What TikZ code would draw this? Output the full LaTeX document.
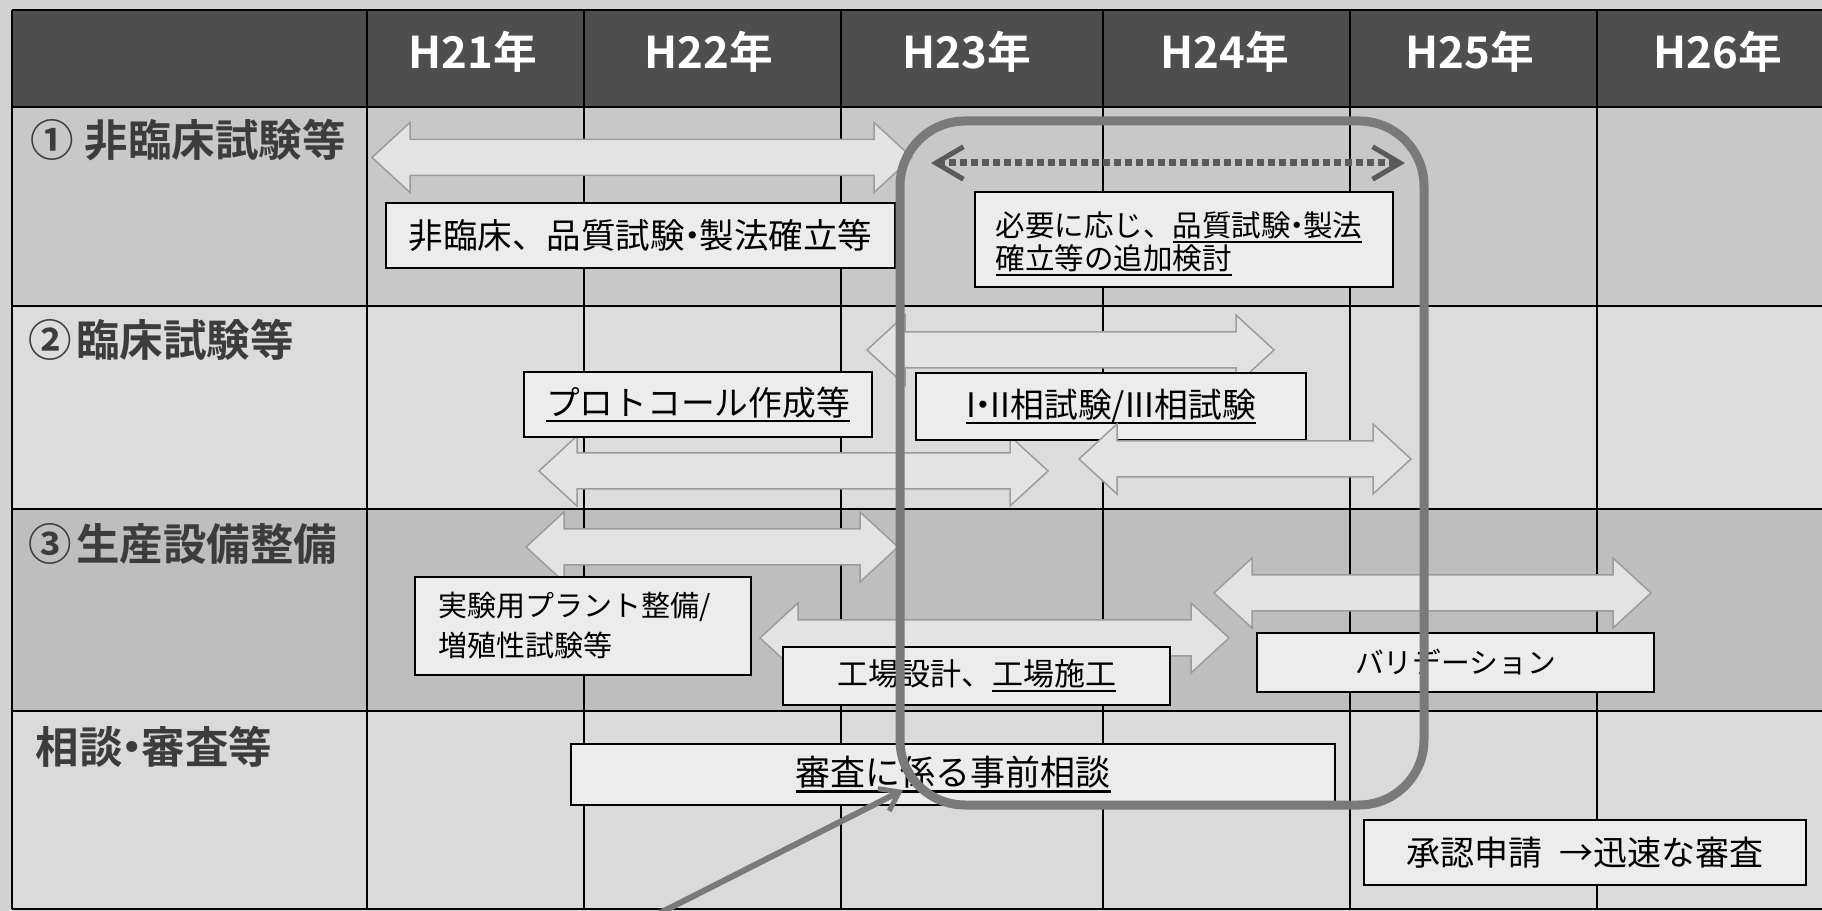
\documentclass[tikz,border=0pt]{standalone}
\usepackage{fontspec}
\setmainfont{Noto Sans CJK JP}[BoldFont={Noto Sans CJK JP Bold}]
\usetikzlibrary{arrows.meta}
\definecolor{bg}{HTML}{D2D2D2}
\definecolor{hdr}{HTML}{4E4E4E}
\definecolor{rowA}{HTML}{C8C8C8}
\definecolor{rowB}{HTML}{DCDCDC}
\definecolor{rowC}{HTML}{BEBEBE}
\definecolor{rowD}{HTML}{DADADA}
\definecolor{boxfill}{HTML}{ECECEC}
\definecolor{arrfill}{HTML}{E3E3E3}
\definecolor{arrline}{HTML}{9C9C9C}
\definecolor{loopc}{HTML}{7A7A7A}
\definecolor{dotc}{HTML}{5A5A5A}
\definecolor{lbltext}{HTML}{3C3C3C}
\newsavebox\ulbox
\newcommand\myul[1]{\sbox\ulbox{#1}\rlap{\rule[-0.2em]{\wd\ulbox}{0.075em}}\usebox\ulbox}
\newcommand\ndot{\hspace{-0.28em}・\hspace{-0.28em}}
\newcommand\blkarrow[3]{\draw[blockarr] (#1,#3) -- (#1+38,#3-35) -- (#1+38,#3-18) -- (#2-38,#3-18) -- (#2-38,#3-35) -- (#2,#3) -- (#2-38,#3+35) -- (#2-38,#3+18) -- (#1+38,#3+18) -- (#1+38,#3+35) -- cycle;}
\tikzset{
  box/.style={draw=black, line width=1pt, fill=boxfill, inner sep=0pt},
  boxline/.style={anchor=base west, inner sep=0pt},
  hdrtxt/.style={text=white, font=\bfseries\fontsize{17.5pt}{20pt}\selectfont, inner sep=0pt},
  lbl/.style={anchor=west, text=lbltext, font=\bfseries\fontsize{17.4pt}{20pt}\selectfont, inner sep=0pt},
  blockarr/.style={fill=arrfill, draw=arrline, line width=0.6pt},
  gridline/.style={line width=0.8pt, draw=black},
  bigloop/.style={draw=loopc, line width=3.6pt, rounded corners=26pt, inner sep=0pt},
  dotarr/.style={draw=dotc, line width=2.8pt, dash pattern=on 2.6pt off 1.8pt,
     {Straight Barb[length=11pt,width=13pt,line width=2pt]}-{Straight Barb[length=11pt,width=13pt,line width=2pt]}},
  diag/.style={draw=loopc, line width=2.4pt, -{Straight Barb[length=7pt,width=10pt,line width=2pt]}},
}
\begin{document}
\begin{tikzpicture}[x=0.4pt,y=-0.4pt]
\useasboundingbox (0,0) rectangle (1822,911);
\fill[bg] (0,0) rectangle (1822,911);
% rows
\fill[hdr] (12,10) rectangle (1822,107);
\fill[rowA] (12,107) rectangle (1822,306);
\fill[rowB] (12,306) rectangle (1822,509);
\fill[rowC] (12,509) rectangle (1822,711);
\fill[rowD] (12,711) rectangle (1822,909);
% grid
\foreach \yy in {10,107,306,509,711,909} \draw[gridline] (12,\yy) -- (1822,\yy);
\foreach \xx in {12,367,584,841,1103,1350,1597} \draw[gridline] (\xx,10) -- (\xx,909);
% header
\node[hdrtxt] (h21) at (473,52) {H21年};
\node[hdrtxt] (h22) at (709,52) {H22年};
\node[hdrtxt] (h23) at (967,52) {H23年};
\node[hdrtxt] (h24) at (1225,52) {H24年};
\node[hdrtxt] (h25) at (1470,52) {H25年};
\node[hdrtxt] (h26) at (1718,52) {H26年};
% row labels
\node[lbl] (l1) at (30,140) {①\hspace{0.25em}非臨床試験等};
\node[lbl] (l2) at (28,340) {②\hspace{0.1em}臨床試験等};
\node[lbl] (l3) at (28,544) {③\hspace{0.1em}生産設備整備};
\node[lbl] (l4) at (35,747) {相談\ndot 審査等};
% block arrows
\blkarrow{372}{912}{157.5}
\blkarrow{867}{1274}{350}
\blkarrow{539}{1048}{471}
\blkarrow{526}{898}{547}
\blkarrow{760}{1229}{638}
\blkarrow{1214}{1651}{593}
% boxes
\node[box, minimum width=203.6pt, minimum height=26pt, font=\fontsize{13.8pt}{16pt}\selectfont] (b1) at (640.5,235.5) {非臨床、品質試験\ndot 製法確立等};
\node[box, minimum width=167.2pt, minimum height=38pt] (b2) at (1184,239.5) {};
\node[boxline, font=\fontsize{11.8pt}{13pt}\selectfont] (b2a) at (995,237) {必要に応じ、\myul{品質試験\ndot 製法}};
\node[boxline, font=\fontsize{11.8pt}{13pt}\selectfont] (b2b) at (995,270) {\myul{確立等の追加検討}};
\node[box, minimum width=139.2pt, minimum height=26pt, font=\fontsize{13.5pt}{16pt}\selectfont] (b3) at (698,404.5) {\myul{プロトコール作成等}};
\node[box, minimum width=156pt, minimum height=26.8pt, font=\fontsize{13.5pt}{16pt}\selectfont] (b4) at (1111,406.5) {\myul{I\ndot II相試験/III相試験}};
\blkarrow{1079}{1411}{459}
\node[box, text width=116pt, inner xsep=9.2pt, minimum height=39.2pt, align=left, font=\fontsize{11.6pt}{16pt}\selectfont] (b5) at (583,626) {実験用プラント整備/\\増殖性試験等};
\node[box, minimum width=154.8pt, minimum height=23.2pt, font=\fontsize{12.4pt}{15pt}\selectfont] (b6) at (976.5,676) {工場設計、\myul{工場施工}};
\node[box, minimum width=158.8pt, minimum height=23.6pt, font=\fontsize{11.5pt}{14pt}\selectfont] (b7) at (1455.5,662.5) {バリデーション};
\node[box, minimum width=305.6pt, minimum height=24.4pt, font=\fontsize{14pt}{16pt}\selectfont] (b8) at (953,774.5) {\myul{審査に係る事前相談}};
\node[box, minimum width=176.8pt, minimum height=26pt, font=\fontsize{13.6pt}{16pt}\selectfont] (b9) at (1585,852.5) {承認申請\hspace{0.5em}→迅速な審査};
% dotted arrow
\coordinate (dl) at (931,163);
\coordinate (dr) at (1405,163);
\draw[dotarr] (dl) -- (dr);
% big rounded loop
\node[bigloop, minimum width=209.6pt, minimum height=273.6pt] (loop) at (1162,463) {};
% diagonal arrow
\coordinate (diagstart) at (660,913);
\coordinate (diagend) at (903,790);
\draw[diag] (diagstart) -- (diagend);
\end{tikzpicture}
\end{document}
